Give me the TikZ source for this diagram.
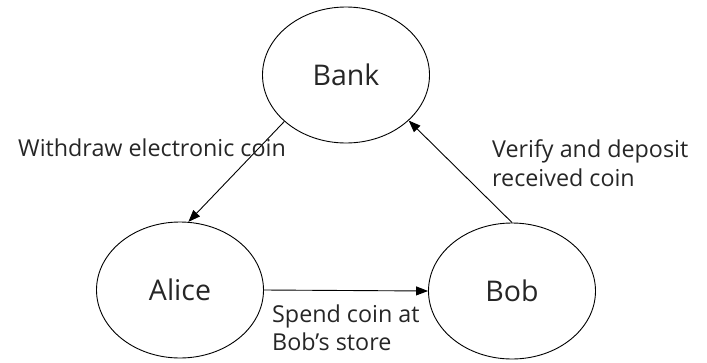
\documentclass[tikz,border=0pt]{standalone}
\usepackage{fontspec}
\setmainfont{Open Sans}
\usetikzlibrary{arrows.meta,shapes.geometric}
\begin{document}
\begin{tikzpicture}[x=1pt,y=-1pt,
  party/.style={draw,line width=0.9pt,ellipse,minimum width=167pt,minimum height=136pt,inner sep=0pt,font=\fontsize{28.5}{32}\selectfont,text=black!85},
  flow/.style={draw,line width=0.9pt,-{Triangle[length=12pt,width=9pt]}},
  lbl/.style={font=\fontsize{23.3}{28.5}\selectfont,text=black!85,align=left,inner sep=0pt}]
\useasboundingbox (0,0) rectangle (707,362);
\node[party] (bank) at (346,75) {Bank};
\node[party] (alice) at (180,290) {Alice};
\node[party] (bob) at (512,291) {Bob};
\draw[flow] (bank.217) -- (alice.83);
\draw[flow] (bob.90) -- (bank.324);
\draw[flow] (alice.east) -- (bob.west);
\node[lbl,anchor=west] (l1) at (18,148) {Withdraw electronic coin};
\node[lbl,anchor=west] (l2) at (492,163) {Verify and deposit\\received coin};
\node[lbl,anchor=west] (l3) at (272,328) {Spend coin at\\Bob’s store};
\end{tikzpicture}
\end{document}
